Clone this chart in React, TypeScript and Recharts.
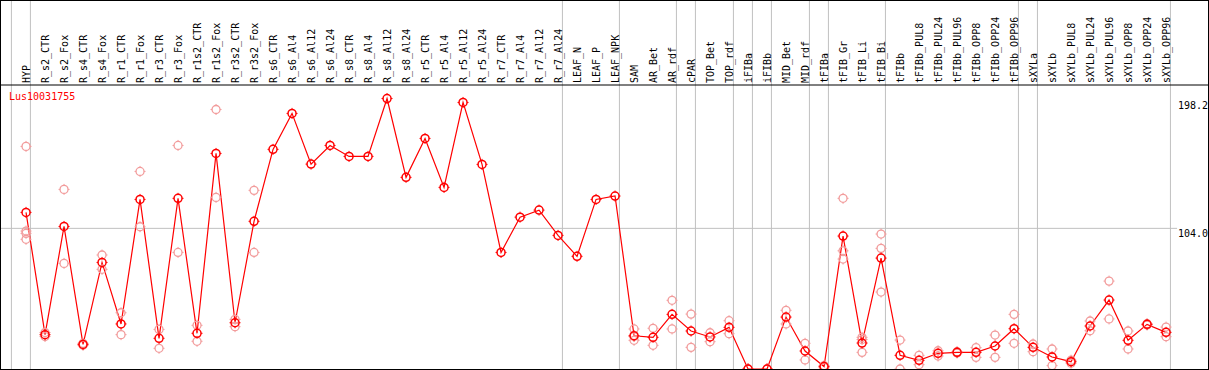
import React from "react";
import { ComposedChart, Line, Scatter, XAxis, YAxis, ReferenceLine } from "recharts";

const geneId = "Lus10031755";

const labels = [
  "HYP", "R_s2_CTR", "R_s2_Fox", "R_s4_CTR", "R_s4_Fox", "R_r1_CTR", "R_r1_Fox", "R_r3_CTR", "R_r3_Fox",
  "R_r1s2_CTR", "R_r1s2_Fox", "R_r3s2_CTR", "R_r3s2_Fox", "R_s6_CTR", "R_s6_Al4", "R_s6_Al12", "R_s6_Al24",
  "R_s8_CTR", "R_s8_Al4", "R_s8_Al12", "R_s8_Al24", "R_r5_CTR", "R_r5_Al4", "R_r5_Al12", "R_r5_Al24",
  "R_r7_CTR", "R_r7_Al4", "R_r7_Al12", "R_r7_Al24", "LEAF_N", "LEAF_P", "LEAF_NPK", "SAM", "AR_Bet", "AR_rdf",
  "cPAR", "TOP_Bet", "TOP_rdf", "iFIBa", "iFIBb", "MID_Bet", "MID_rdf", "tFIBa", "tFIB_Gr", "tFIB_Li", "tFIB_Bi",
  "tFIBb", "tFIBb_PUL8", "tFIBb_PUL24", "tFIBb_PUL96", "tFIBb_OPP8", "tFIBb_OPP24", "tFIBb_OPP96", "sXYLa",
  "sXYLb", "sXYLb_PUL8", "sXYLb_PUL24", "sXYLb_PUL96", "sXYLb_OPP8", "sXYLb_OPP24", "sXYLb_OPP96",
];

const means = [
  115.8, 25.4, 105.4, 18.2, 78.8, 33.3, 125.4, 22.7, 126.2, 26.4, 159.4, 34.2, 109.2,
  162.4, 189.0, 151.5, 165.3, 157.2, 157.2, 200.0, 141.7, 170.5, 134.3, 197.1, 151.3,
  86.2, 112.3, 117.5, 98.8, 83.3, 125.4, 127.9, 24.6, 23.4, 40.4, 28.1, 23.7, 30.8,
  0, 0, 38.4, 13.3, 1.8, 98.3, 19.2, 82.0, 10.1, 6.4, 11.6, 12.3, 12.3, 17.0, 29.8,
  16.0, 8.9, 5.4, 31.8, 51.0, 21.2, 33.0, 27.1,
];

// replicate values per sample (some samples have none)
const reps: number[][] = [
  [164.6, 102, 100.3, 95.9], [27, 24], [132.8, 78.1], [19, 17.5], [84.3, 73.7], [41.6, 25.4],
  [146.1, 105.2], [29.3, 15.3], [165.3, 86.2], [32.3, 20.5], [191.9, 126.9], [36.7, 31.3], [132.1, 86.2],
  [], [], [], [], [], [], [], [], [], [], [], [], [], [], [], [], [], [], [],
  [29.6, 24, 21.2], [30.1, 17.5], [50.8, 29.6], [40.6, 16], [26.8, 20.2], [35.7, 26.1], [0, 0], [0, 0],
  [43.4, 33.3], [19, 6.7], [2.5, 1], [126.2, 87.4, 81.3], [23.4, 21.8, 12.3], [99.8, 89.2, 56.9],
  [21.4, 0], [10.1, 3.2], [13.5, 9.6], [12.8, 11.8], [15.8, 8.6], [25.1, 8.6], [40.4, 19],
  [18.5, 12.8], [14.8, 2.5], [6.5, 4.3], [35.5, 28.3], [65, 37], [28.1, 14.8], [33.5, 32.5], [31, 23.9],
];

// group separators sit just after these sample indices
const groupBreaks = [-1, 0, 28, 31, 34, 35, 37, 38, 39, 41, 42, 45, 52, 53, 60];
const yTicks = [0, 104, 198.2];

const data = labels.map((name, idx) => ({ idx, name, mean: means[idx] }));
const repData = reps.flatMap((vals, idx) => vals.map((v) => ({ idx, v })));

const FONT = "'DejaVu Sans Mono', monospace";
const GRID = "#c0c0c0";

function Marker({ cx, cy, color, w }: any) {
  if (cx == null || cy == null) return null;
  return (
    <g>
      <circle cx={cx} cy={cy} r={4} fill="none" stroke={color} strokeWidth={w} />
      <line x1={cx} y1={cy - 5.5} x2={cx} y2={cy - 4} stroke={color} />
      <line x1={cx} y1={cy + 4} x2={cx} y2={cy + 5.5} stroke={color} />
      <line x1={cx - 5.5} y1={cy} x2={cx - 4} y2={cy} stroke={color} />
      <line x1={cx + 4} y1={cy} x2={cx + 5.5} y2={cy} stroke={color} />
    </g>
  );
}

function NameTick({ x, y, payload }: any) {
  const name = labels[payload.value];
  if (name === undefined) return null;
  const bx = x + 3.5;
  return (
    <text x={bx} y={y} transform={`rotate(-90 ${bx} ${y})`} fontSize={10} fontFamily={FONT} fill="#000" textAnchor="start">
      {name}
    </text>
  );
}

function ValueTick({ y, payload }: any) {
  const v = payload.value;
  return (
    <text x={1178} y={Math.min(y + 8.5, 366)} fontSize={10} fontFamily={FONT} fill="#000" textAnchor="start">
      {v === 0 ? "0" : v.toFixed(1)}
    </text>
  );
}

export default function App() {
  return (
    <div style={{ position: "relative", width: 1209, height: 370, background: "#fff" }}>
      <style>{"body{margin:0}"}</style>
      <ComposedChart width={1209} height={370} data={data} margin={{ top: 0, right: 0, bottom: 1, left: 0 }}>
        <XAxis
          dataKey="idx"
          type="number"
          orientation="top"
          height={85}
          domain={[-1.37, 62.26]}
          allowDataOverflow
          ticks={labels.map((_, i) => i)}
          interval={0}
          tickLine={false}
          tickSize={0}
          tickMargin={2}
          axisLine={{ stroke: "#000" }}
          tick={<NameTick />}
        />
        <YAxis
          orientation="right"
          mirror
          domain={[0, 210]}
          allowDataOverflow
          ticks={yTicks}
          axisLine={false}
          tickLine={false}
          tick={<ValueTick />}
        />
        {groupBreaks.map((b) => (
          <ReferenceLine
            key={b}
            segment={[{ x: b + 0.23, y: 0 }, { x: b + 0.23, y: 280 }]}
            stroke={GRID}
            ifOverflow="visible"
          />
        ))}
        <ReferenceLine segment={[{ x: -1.37, y: 104 }, { x: 60.58, y: 104 }]} stroke={GRID} ifOverflow="visible" />
        <Scatter
          data={repData}
          dataKey="v"
          isAnimationActive={false}
          shape={(p: any) => <Marker cx={p.cx} cy={p.cy} color="#f29c9c" w={1.3} />}
        />
        <Line
          dataKey="mean"
          stroke="#ff0000"
          strokeWidth={1.2}
          isAnimationActive={false}
          dot={(p: any) => <Marker key={p.index} cx={p.cx} cy={p.cy} color="#ff0000" w={1.5} />}
          activeDot={false}
        />
      </ComposedChart>
      <div
        style={{
          position: "absolute", left: 9, top: 91, color: "#ff0000",
          fontFamily: FONT, fontSize: 10, lineHeight: "12px",
        }}
      >
        {geneId}
      </div>
      <div
        style={{
          position: "absolute", left: 0, top: 0, width: 1209, height: 370,
          boxSizing: "border-box", border: "1px solid #000", pointerEvents: "none",
        }}
      />
    </div>
  );
}
